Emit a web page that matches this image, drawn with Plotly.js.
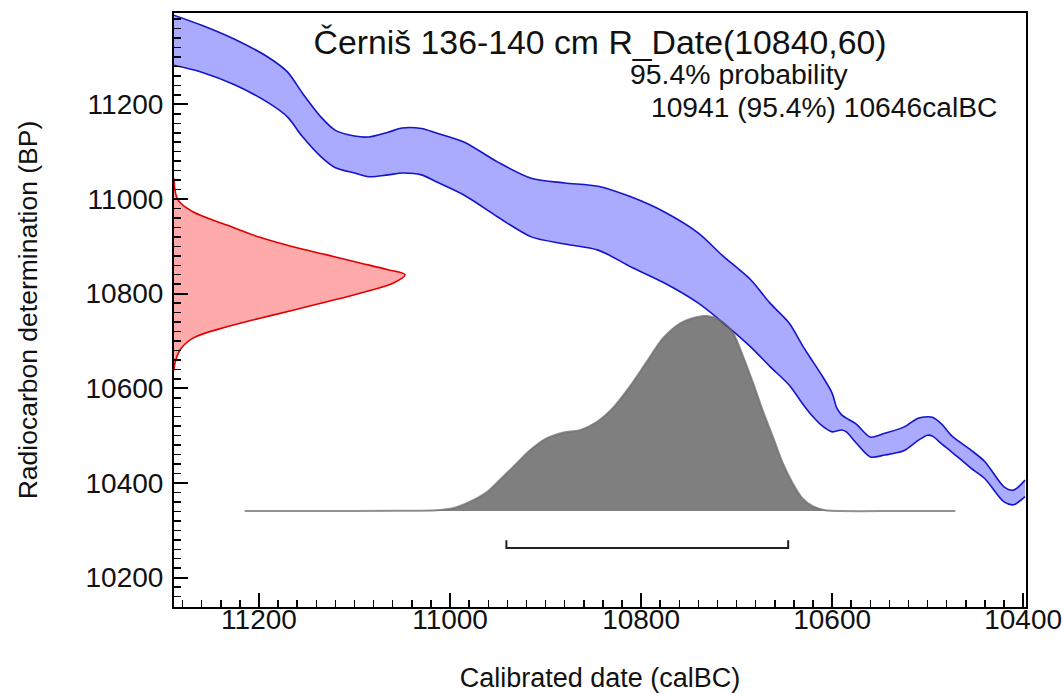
<!DOCTYPE html>
<html>
<head>
<meta charset="utf-8">
<script src="https://cdn.plot.ly/plotly-3.0.1.min.js"></script>
<style>
  html, body { margin: 0; padding: 0; background: #fff; }
  #chart { width: 1064px; height: 693px; }
</style>
</head>
<body>
<div id="chart"></div>
<script>
// Sample and calibration settings
const sampleName = 'Černiš 136-140 cm';
const c14Age = 10840;
const c14Error = 60;
const rangeLevel = '95.4%';
const rangeFrom = 10941;   // calBC
const rangeTo = 10646;     // calBC

// Calibration curve band (calBC vs BP, upper and lower edges)
const curveCal = [11290, 11260, 11225, 11190, 11170, 11155, 11135, 11120, 11100, 11085,
                  11065, 11050, 11030, 11015, 10985, 10950, 10915, 10880, 10845, 10810,
                  10775, 10740, 10715, 10685, 10665, 10645, 10630, 10620, 10610, 10600,
                  10595, 10590, 10585, 10575, 10560, 10545, 10525, 10510, 10500, 10495,
                  10485, 10475, 10455, 10440, 10420, 10410, 10398];
const curveHigh = [11389, 11367, 11337, 11299, 11268, 11225, 11173, 11145, 11133, 11131,
                   11141, 11150, 11149, 11140, 11120, 11078, 11044, 11034, 11027, 11004,
                   10972, 10928, 10881, 10829, 10780, 10738, 10687, 10656, 10625, 10590,
                   10558, 10544, 10537, 10525, 10497, 10505, 10518, 10537, 10540, 10539,
                   10524, 10500, 10470, 10445, 10392, 10385, 10406];
const curveLow = [11283, 11268, 11241, 11203, 11173, 11133, 11089, 11066, 11055, 11047,
                  11051, 11055, 11051, 11037, 11008, 10962, 10920, 10905, 10892, 10856,
                  10822, 10780, 10740, 10687, 10646, 10607, 10565, 10540, 10520, 10508,
                  10510, 10512, 10508, 10485, 10455, 10459, 10468, 10490, 10501, 10499,
                  10482, 10466, 10432, 10409, 10360, 10354, 10371];

// Radiocarbon measurement distribution (BP vs relative probability)
const measBP = [11044, 10998, 10973, 10945, 10919, 10899, 10882, 10865, 10851, 10840,
                10822, 10801, 10783, 10765, 10748, 10730, 10706, 10681, 10653, 10638];
const measProb = [0, 0.017, 0.082, 0.229, 0.372, 0.515, 0.662, 0.805, 0.922, 1.0,
                  0.948, 0.805, 0.662, 0.515, 0.372, 0.229, 0.082, 0.026, 0.004, 0];

// Calibrated date distribution (calBC vs relative probability)
const calDate = [11215, 11150, 11050, 11014, 10997, 10979, 10961, 10948, 10934, 10916,
                 10899, 10882, 10864, 10846, 10830, 10812, 10794, 10777, 10759, 10742,
                 10731, 10718, 10704, 10693, 10683, 10673, 10662, 10652, 10641, 10631,
                 10620, 10607, 10590, 10530, 10471];
const calProb = [0, 0, 0.001, 0.004, 0.014, 0.048, 0.099, 0.159, 0.226, 0.313,
                 0.373, 0.402, 0.415, 0.458, 0.526, 0.637, 0.766, 0.886, 0.963, 0.994,
                 1.0, 0.980, 0.915, 0.79, 0.66, 0.52, 0.38, 0.25, 0.14, 0.065,
                 0.024, 0.004, 0, 0, 0];

// Axis ticks
const xTicks = [11200, 11000, 10800, 10600, 10400];
const yTicks = [10200, 10400, 10600, 10800, 11000, 11200];

const FONT = '"Liberation Sans", Arial, Helvetica, sans-serif';
const INK = '#111111';
const BAND_LINE = { color: '#1414c8', width: 1.6, shape: 'spline', smoothing: 0.8 };

const traces = [
  {
    x: curveCal, y: curveLow, type: 'scatter', mode: 'lines',
    line: BAND_LINE, hoverinfo: 'skip', showlegend: false
  },
  {
    x: curveCal, y: curveHigh, type: 'scatter', mode: 'lines',
    fill: 'tonexty', fillcolor: 'rgb(170,170,255)',
    line: BAND_LINE, hoverinfo: 'skip', showlegend: false
  },
  {
    x: calDate, y: calProb, xaxis: 'x', yaxis: 'y2', type: 'scatter', mode: 'lines',
    fill: 'tozeroy', fillcolor: 'rgba(0,0,0,0.5)',
    line: { color: 'rgba(110,110,110,0.75)', width: 2, shape: 'spline', smoothing: 0.8 },
    hoverinfo: 'skip', showlegend: false
  },
  {
    x: measProb, y: measBP, xaxis: 'x2', yaxis: 'y', type: 'scatter', mode: 'lines',
    fill: 'tozerox', fillcolor: 'rgb(255,170,170)',
    line: { color: '#e00000', width: 1.6, shape: 'spline', smoothing: 1 },
    hoverinfo: 'skip', showlegend: false
  },
  {
    // 95.4% range bracket below the calibrated distribution
    x: [rangeFrom, rangeFrom, rangeTo, rangeTo],
    y: [-0.15, -0.19, -0.19, -0.15],
    xaxis: 'x', yaxis: 'y2', type: 'scatter', mode: 'lines',
    line: { color: '#222222', width: 2 }, hoverinfo: 'skip', showlegend: false
  }
];

const layout = {
  width: 1064,
  height: 693,
  margin: { l: 174, r: 38, t: 13, b: 86 },
  paper_bgcolor: '#ffffff',
  plot_bgcolor: '#ffffff',
  showlegend: false,
  font: { family: FONT, color: INK },
  title: {
    text: sampleName + ' R_Date(' + c14Age + ',' + c14Error + ')',
    font: { family: FONT, size: 33.8, color: INK },
    xref: 'paper', x: 0.5, xanchor: 'center',
    yref: 'paper', y: 0.951, yanchor: 'middle'
  },
  xaxis: {
    range: [11289, 10397],
    tickmode: 'array', tickvals: xTicks, ticktext: xTicks.map(String),
    ticks: 'inside', ticklen: 14, tickwidth: 2, tickcolor: '#000',
    minor: { ticks: 'inside', ticklen: 7, tickwidth: 1.5, tickcolor: '#000', dtick: 20, tick0: 0, showgrid: false },
    showline: true, linewidth: 2, linecolor: '#000', mirror: true,
    showgrid: false, zeroline: false,
    ticklabelstandoff: -14,
    tickfont: { family: FONT, size: 28, color: INK },
    title: { text: 'Calibrated date (calBC)', font: { family: FONT, size: 27, color: INK }, standoff: 40 }
  },
  yaxis: {
    range: [10138, 11393],
    tickmode: 'array', tickvals: yTicks, ticktext: yTicks.map(String),
    ticks: 'inside', ticklen: 14, tickwidth: 2, tickcolor: '#000',
    minor: { ticks: 'inside', ticklen: 7, tickwidth: 1.5, tickcolor: '#000', dtick: 20, tick0: 0, showgrid: false },
    showline: true, linewidth: 2, linecolor: '#000', mirror: true,
    showgrid: false, zeroline: false,
    ticklabelstandoff: 3,
    tickfont: { family: FONT, size: 28, color: INK },
    title: { text: 'Radiocarbon determination (BP)', font: { family: FONT, size: 26.5, color: INK }, standoff: 40 }
  },
  xaxis2: { overlaying: 'x', range: [0, 3.688], visible: false, fixedrange: true },
  yaxis2: { overlaying: 'y', range: [-0.492, 2.554], visible: false, fixedrange: true },
  annotations: [
    {
      text: rangeLevel + ' probability',
      xref: 'paper', yref: 'paper', x: 0.533, y: 0.897,
      xanchor: 'left', yanchor: 'middle', showarrow: false,
      font: { family: FONT, size: 28.4, color: INK }
    },
    {
      text: rangeFrom + ' (' + rangeLevel + ') ' + rangeTo + 'calBC',
      xref: 'paper', yref: 'paper', x: 0.557, y: 0.842,
      xanchor: 'left', yanchor: 'middle', showarrow: false,
      font: { family: FONT, size: 28.2, color: INK }
    }
  ]
};

Plotly.newPlot('chart', traces, layout, { staticPlot: true, displayModeBar: false });
</script>
</body>
</html>
